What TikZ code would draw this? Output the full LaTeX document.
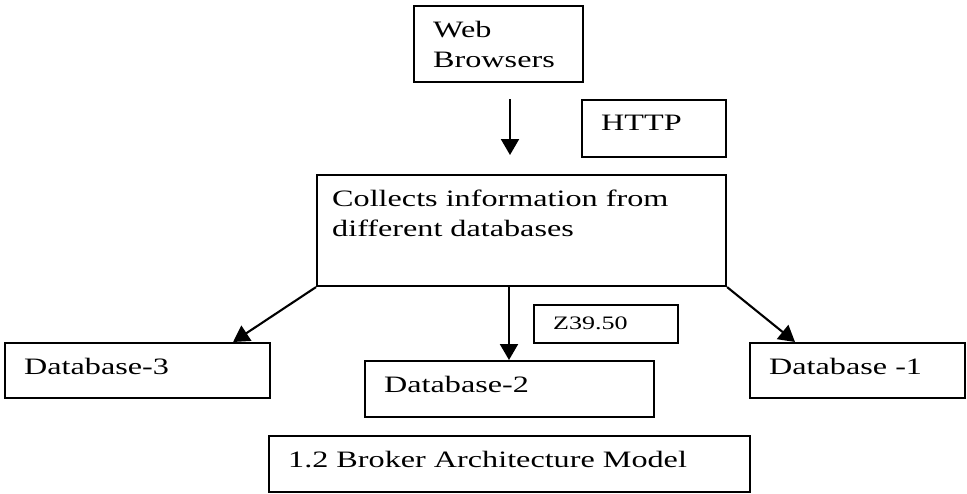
\documentclass[tikz,border=0pt]{standalone}
\usepackage{fontspec}
\setmainfont{Liberation Serif}[FakeStretch=1.37]
\usetikzlibrary{arrows.meta}

\begin{document}
\begin{tikzpicture}[x=1pt,y=-1pt,
  box/.style={draw, line width=2.1pt, anchor=north west, inner sep=0pt},
  boxtext/.style={anchor=north west, align=left, inner xsep=20pt, inner ysep=16pt,
    font=\fontsize{23.5}{30}\selectfont},
  arrow/.style={line width=2.1pt, -{Triangle[length=16pt,width=18pt]}}
]
  \useasboundingbox (0,0) rectangle (967,493);
   \newcommand{\textBox}[6]{
        \node[box, minimum width=#3, minimum height=#4,
          label={[boxtext,#6]north west:{#5}}] (#1) at (#2) {};
    }
  % boxes
  \textBox{web}{413,5}{169pt}{76pt}{Web\\Browsers}{}
  \textBox{http}{581,99}{144pt}{57pt}{HTTP}{}
  \textBox{main}{316,174}{409pt}{111pt}{Collects information from\\different databases}{inner xsep=16pt}
  \textBox{zlink}{533,304}{144pt}{38pt}{Z39.50}{font=\fontsize{19}{24}\selectfont, inner ysep=13pt}
  \textBox{dbthree}{4,342}{265pt}{55pt}{Database-3}{}
  \textBox{dbtwo}{364,360}{289pt}{56pt}{Database-2}{}
  \textBox{dbone}{749,342}{215pt}{55pt}{Database -1}{}
  \textBox{caption}{268,435}{481pt}{56pt}{1.2 Broker Architecture Model}{}

  % arrows
  \draw[arrow, shorten <=16pt, shorten >=19pt] ([xshift=97pt]web.south west) -- ([xshift=97pt]web.south west |- main.north);
  \draw[arrow] (main.south west) -- ([xshift=-38pt]dbthree.north east);
  \draw[arrow] ([xshift=145pt]dbtwo.north west |- main.south) -- ([xshift=145pt]dbtwo.north west);
  \draw[arrow] (main.south east) -- ([xshift=46pt]dbone.north west);

\end{tikzpicture}
\end{document}
